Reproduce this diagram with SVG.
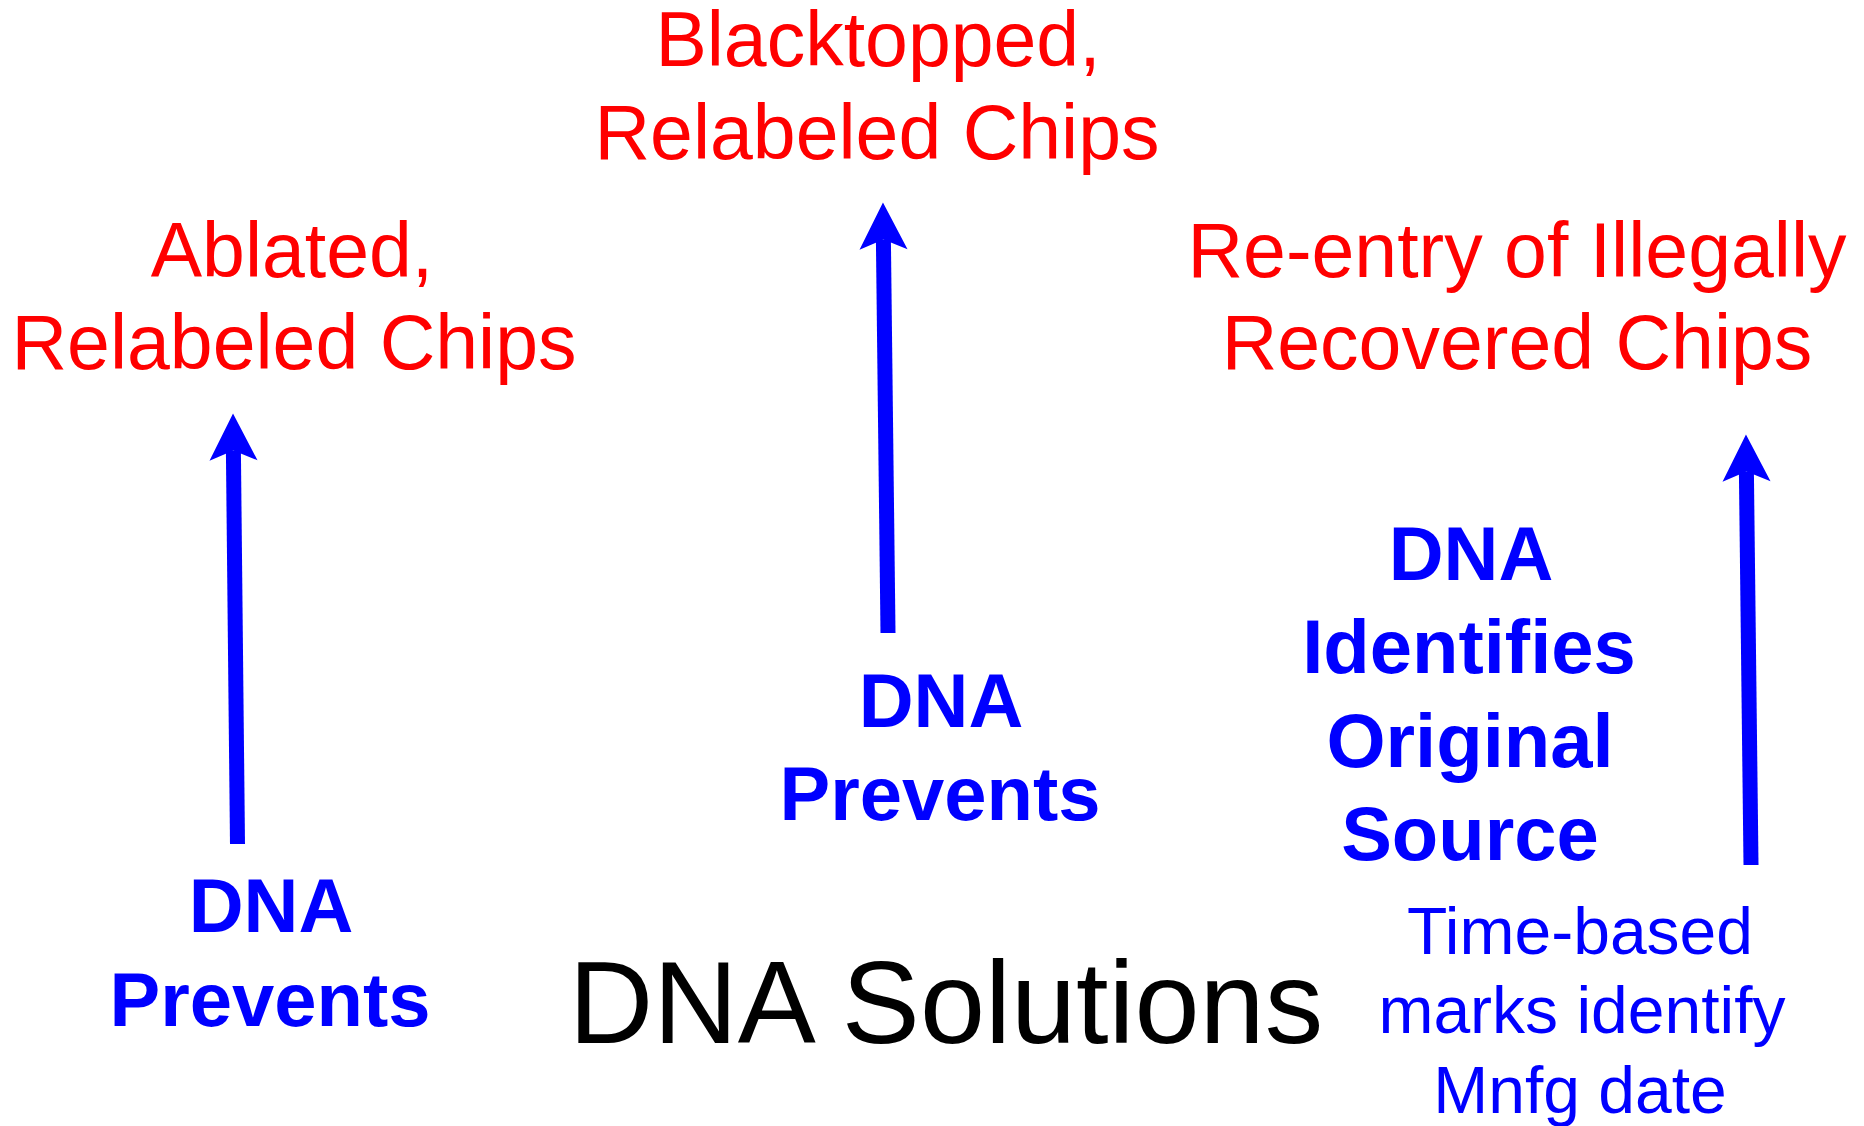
<svg xmlns="http://www.w3.org/2000/svg" width="1864" height="1126" viewBox="0 0 1864 1126">
  <style>
    .threat { font-family: "Liberation Sans", Arial, sans-serif; font-size: 77px; fill: #ff0000; text-anchor: middle; }
    .action { font-family: "Liberation Sans", Arial, sans-serif; font-size: 76px; font-weight: bold; fill: #0000ff; text-anchor: middle; }
    .note { font-family: "Liberation Sans", Arial, sans-serif; font-size: 66px; fill: #0000ff; text-anchor: middle; }
    .title { font-family: "Liberation Sans", Arial, sans-serif; font-size: 117px; fill: #000000; text-anchor: middle; }
    .shaft { stroke: #0000ff; stroke-width: 15; fill: none; stroke-linecap: butt; }
  </style>
  <defs>
    <marker id="head" markerUnits="userSpaceOnUse" viewBox="0 -24 47 48" refX="10" refY="0" markerWidth="47" markerHeight="48" orient="auto" overflow="visible">
      <path d="M47,0 L0,-24 L10,0 L0,24 Z" fill="#0000ff"/>
    </marker>
  </defs>

  <rect width="1864" height="1126" fill="#ffffff"/>

  <!-- counterfeit chip categories -->
  <g id="ablated">
    <text class="threat" x="292" y="277">Ablated,</text>
    <text class="threat" x="294" y="369">Relabeled Chips</text>
  </g>
  <g id="blacktopped">
    <text class="threat" x="878" y="66">Blacktopped,</text>
    <text class="threat" x="877" y="159">Relabeled Chips</text>
  </g>
  <g id="reentry">
    <text class="threat" x="1517" y="277">Re-entry of Illegally</text>
    <text class="threat" x="1517" y="369">Recovered Chips</text>
  </g>

  <!-- DNA countermeasures -->
  <g id="prevents-left">
    <text class="action" x="271" y="932">DNA</text>
    <text class="action" x="270" y="1026">Prevents</text>
  </g>
  <g id="prevents-middle">
    <text class="action" x="941" y="727">DNA</text>
    <text class="action" x="940" y="820">Prevents</text>
  </g>
  <g id="identifies">
    <text class="action" x="1471" y="580">DNA</text>
    <text class="action" x="1469" y="673">Identifies</text>
    <text class="action" x="1470" y="767">Original</text>
    <text class="action" x="1470" y="860">Source</text>
  </g>
  <g id="time-marks">
    <text class="note" x="1580" y="954">Time-based</text>
    <text class="note" x="1582" y="1033">marks identify</text>
    <text class="note" x="1580" y="1113">Mnfg date</text>
  </g>

  <g id="title">
    <text class="title" x="946" y="1043">DNA Solutions</text>
  </g>

  <!-- connectors -->
  <g id="connectors">
    <line class="shaft" x1="237.5" y1="844" x2="233.4" y2="450.5" marker-end="url(#head)"/>
    <line class="shaft" x1="888" y1="633" x2="883.4" y2="239.5" marker-end="url(#head)"/>
    <line class="shaft" x1="1751" y1="865" x2="1746.4" y2="471.5" marker-end="url(#head)"/>
  </g>
</svg>
